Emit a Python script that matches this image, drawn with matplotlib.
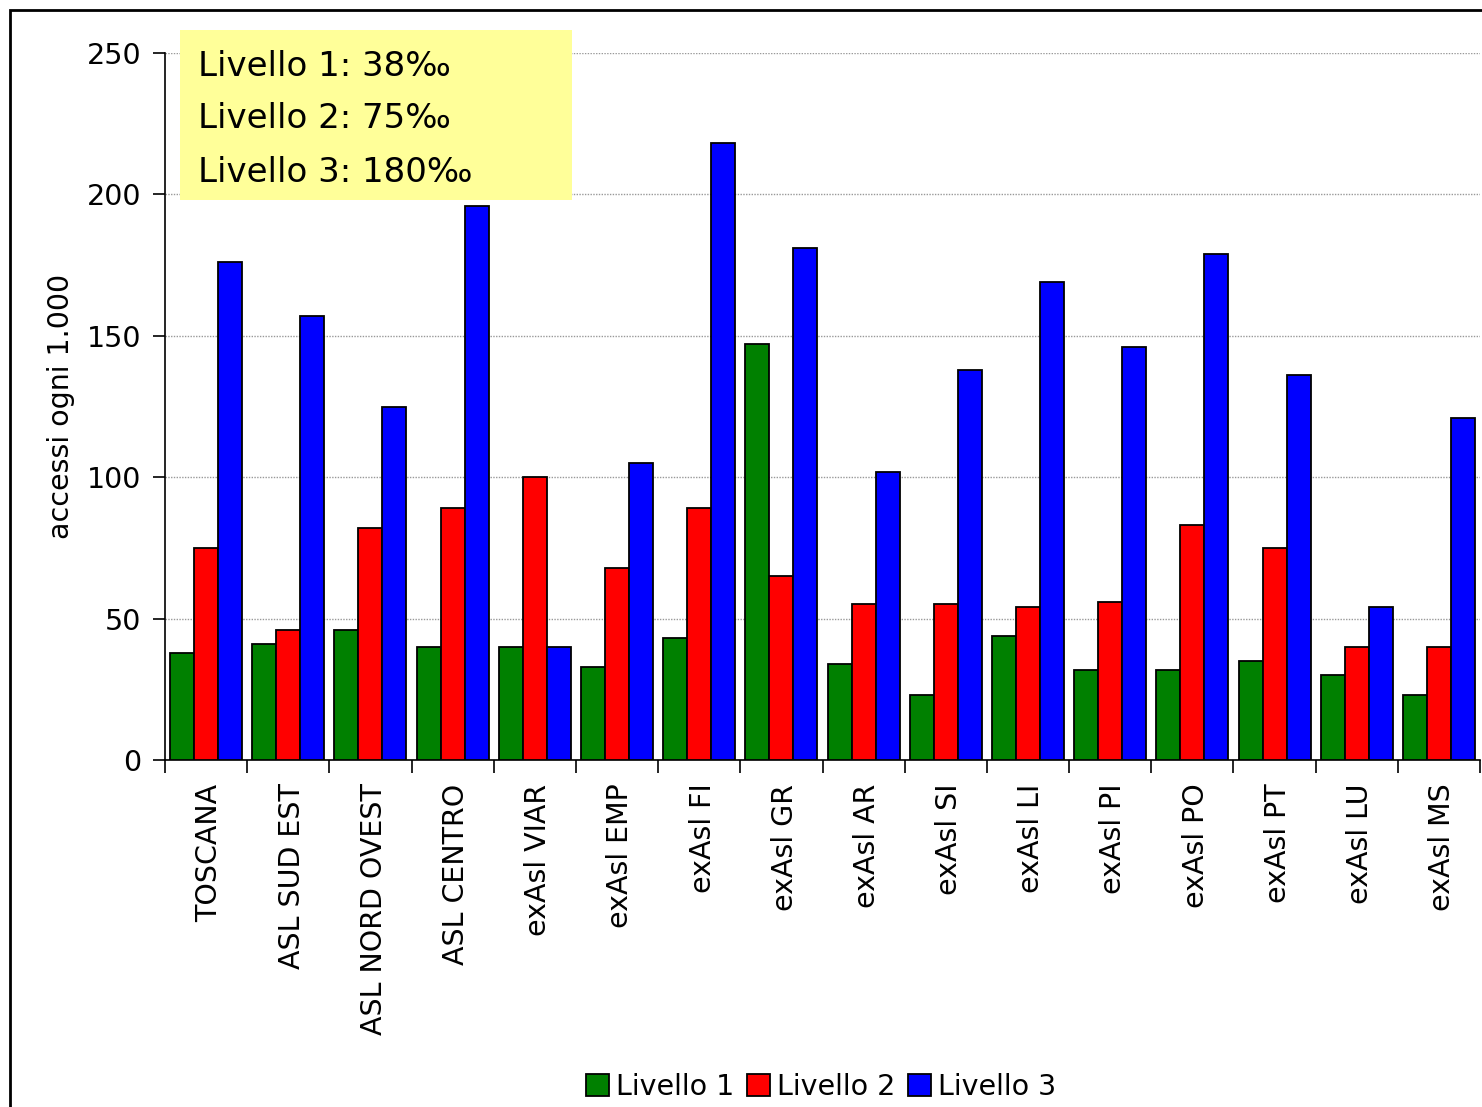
import matplotlib
matplotlib.use("Agg")
import matplotlib.pyplot as plt
import numpy as np
from matplotlib.patches import Rectangle

plt.rcParams['font.family'] = ['DejaVu Sans']

categories = ["TOSCANA", "ASL SUD EST", "ASL NORD OVEST", "ASL CENTRO",
              "exAsl VIAR", "exAsl EMP", "exAsl FI", "exAsl GR", "exAsl AR",
              "exAsl SI", "exAsl LI", "exAsl PI", "exAsl PO", "exAsl PT",
              "exAsl LU", "exAsl MS"]
livello1 = [38, 41, 46, 40, 40, 33, 43, 147, 34, 23, 44, 32, 32, 35, 30, 23]
livello2 = [75, 46, 82, 89, 100, 68, 89, 65, 55, 55, 54, 56, 83, 75, 40, 40]
livello3 = [176, 157, 125, 196, 40, 105, 218, 181, 102, 138, 169, 146, 179, 136, 54, 121]
series_names = ["Livello 1", "Livello 2", "Livello 3"]
series_colors = ["#008000", "#FF0000", "#0000FF"]
box_lines = ["Livello 1: 38‰", "Livello 2: 75‰", "Livello 3: 180‰"]
yticks = [0, 50, 100, 150, 200, 250]

W, H = 1482, 1107
fig = plt.figure(figsize=(W / 100, H / 100), dpi=100)

# outer frame of the chart area
fig.add_artist(Rectangle((10 / W, -0.1), 1.2, 1 - 10 / H + 0.1,
                         transform=fig.transFigure, fill=False,
                         edgecolor="black", linewidth=2))

ax = fig.add_axes([165 / W, 1 - 760 / H, (1480 - 165) / W, (760 - 53) / H])

n = len(categories)
x = np.arange(n)
bw = 0.292
for i, (vals, name, col) in enumerate(zip([livello1, livello2, livello3],
                                          series_names, series_colors)):
    ax.bar(x + (i - 1) * bw, vals, width=bw, color=col, edgecolor="black",
           linewidth=1.3, label=name, zorder=3)

ax.set_xlim(-0.5, n - 0.5)
ax.set_ylim(0, 250)
ax.set_yticks(yticks)
ax.set_yticklabels([str(v) for v in yticks], fontsize=20.5)
ax.yaxis.grid(True, color="#999999", linestyle=(0, (1, 1)), linewidth=1)
ax.set_axisbelow(True)
ax.tick_params(axis="y", direction="out", length=9, width=1.2, pad=8)

# category boundary ticks on the x axis
ax.set_xticks(np.arange(n + 1) - 0.5, minor=False)
ax.set_xticklabels([])
ax.tick_params(axis="x", which="major", direction="out", length=9, width=1.2)
ax.set_xticks(x + 0.04, minor=True)
ax.set_xticklabels(categories, minor=True, rotation=90, fontsize=20.5)
ax.tick_params(axis="x", which="minor", length=0, pad=17)

for s in ["top", "right"]:
    ax.spines[s].set_visible(False)
ax.spines["left"].set_linewidth(1.2)
ax.spines["bottom"].set_linewidth(1.2)

ax.set_ylabel("accessi ogni 1.000", fontsize=20.5)
ax.yaxis.set_label_coords(-90 / (1480 - 165), 0.5)

# note box with the reference levels
fig.add_artist(Rectangle((180 / W, 1 - 200 / H), (572 - 180) / W, (200 - 30) / H,
                         transform=fig.transFigure, facecolor="#FFFF99",
                         edgecolor="none", zorder=5))
for k, line in enumerate(box_lines):
    fig.text(198 / W, 1 - (66 + 53 * k) / H, line, fontsize=24.5,
             ha="left", va="center", zorder=6)

fig.legend(loc="center", bbox_to_anchor=(821 / W, 1 - 1087 / H), ncol=3,
           frameon=False, fontsize=20.5, handlelength=0.8, handleheight=0.8,
           handletextpad=0.25, columnspacing=0.45)

fig.savefig("out.png", dpi=100)
